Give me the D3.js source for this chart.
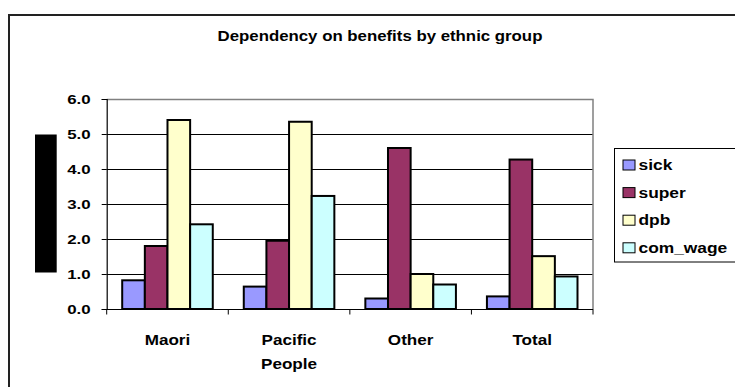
<!DOCTYPE html>
<html>
<head>
<meta charset="utf-8">
<script src="https://cdn.jsdelivr.net/npm/d3@7"></script>
<style>
  html, body { margin: 0; padding: 0; background: #fff; }
  svg { display: block; }
  text { font-family: Arial, "Liberation Sans", sans-serif; font-weight: bold; fill: #000; }
</style>
</head>
<body>
<svg id="chart" width="735" height="387"></svg>
<script>
// Ethnic groups along the x axis
const categories = ["Maori", "Pacific People", "Other", "Total"];
// Benefit types (series)
const seriesNames = ["sick", "super", "dpb", "com_wage"];
// Values per series, one entry per ethnic group
const sick     = [0.82, 0.64, 0.30, 0.36];
const superann = [1.80, 1.95, 4.60, 4.27];
const dpb      = [5.40, 5.35, 1.00, 1.51];
const comWage  = [2.42, 3.23, 0.70, 0.93];
const seriesValues = [sick, superann, dpb, comWage];
const seriesColors = ["#9999FF", "#993366", "#FFFFCC", "#CCFFFF"];
// Value axis ticks
const yTicks = [0, 1, 2, 3, 4, 5, 6];
const titleText = "Dependency on benefits by ethnic group";

const svg = d3.select("#chart");
const plot = { left: 106.7, right: 593, top: 99, bottom: 309 };

// Widen glyphs horizontally to the chart's wide lettering
function stretch(sel, factor) {
  sel.each(function () {
    const w = this.getComputedTextLength();
    d3.select(this).attr("textLength", w * factor).attr("lengthAdjust", "spacingAndGlyphs");
  });
}

// Outer chart frame (left and top edges)
svg.append("path")
  .attr("d", "M9,400 L9,15 L740,15")
  .attr("fill", "none").attr("stroke", "#222").attr("stroke-width", 2);

// Title
svg.append("text")
  .attr("x", 380).attr("y", 41)
  .attr("text-anchor", "middle")
  .style("font-size", "15px")
  .text(titleText)
  .call(stretch, 1.12);

const y = d3.scaleLinear().domain([0, 6]).range([plot.bottom, plot.top]);
const x0 = d3.scaleBand().domain(categories)
  .range([plot.left, plot.right])
  .paddingInner(0.255).paddingOuter(0.1275);
const x1 = d3.scaleBand().domain(seriesNames).range([0, x0.bandwidth()]).padding(0);

// Gridlines
svg.append("g").selectAll("line")
  .data(yTicks.filter(t => t > 0 && t < 6))
  .join("line")
  .attr("x1", plot.left).attr("x2", plot.right)
  .attr("y1", d => Math.round(y(d)) + 0.5).attr("y2", d => Math.round(y(d)) + 0.5)
  .attr("stroke", "#000").attr("stroke-width", 1);

// Plot area border (top and right)
svg.append("path")
  .attr("d", `M${plot.left},${Math.round(y(6)) + 0.5} L${plot.right},${Math.round(y(6)) + 0.5} L${plot.right},${plot.bottom}`)
  .attr("fill", "none").attr("stroke", "#808080").attr("stroke-width", 1.5);

// Bars
const groups = svg.append("g").selectAll("g")
  .data(categories)
  .join("g")
  .attr("transform", d => `translate(${x0(d)},0)`);

groups.selectAll("rect")
  .data((c, ci) => seriesNames.map((s, si) => ({ s, v: seriesValues[si][ci], color: seriesColors[si] })))
  .join("rect")
  .attr("x", d => x1(d.s))
  .attr("width", x1.bandwidth())
  .attr("y", d => y(d.v))
  .attr("height", d => y(0) - y(d.v))
  .attr("fill", d => d.color)
  .attr("stroke", "#000").attr("stroke-width", 2);

// Y axis
const yAxis = svg.append("g")
  .attr("transform", `translate(${plot.left},0)`)
  .call(d3.axisLeft(y).tickValues(yTicks).tickFormat(d3.format(".1f")).tickSize(5).tickPadding(11));
yAxis.select(".domain").attr("stroke", "#000").attr("stroke-width", 1.2);
yAxis.selectAll(".tick line").attr("stroke", "#000");
yAxis.selectAll("text")
  .attr("font-family", null).attr("font-size", null)
  .style("font-size", "13.5px").attr("dy", "0.36em")
  .call(stretch, 1.25);

// X axis with boundary ticks
const xAxisG = svg.append("g");
xAxisG.append("line")
  .attr("x1", plot.left).attr("x2", plot.right)
  .attr("y1", plot.bottom + 0.5).attr("y2", plot.bottom + 0.5)
  .attr("stroke", "#000").attr("stroke-width", 1.2);
const bounds = categories.map(c => x0(c) - x0.step() * x0.paddingInner() / 2).concat([plot.right]);
xAxisG.selectAll("line.tick")
  .data(bounds)
  .join("line").attr("class", "tick")
  .attr("x1", d => d).attr("x2", d => d)
  .attr("y1", plot.bottom).attr("y2", plot.bottom + 5.5)
  .attr("stroke", "#000").attr("stroke-width", 1);

// Category labels, wrapped onto lines at spaces
const labels = xAxisG.selectAll("text.cat")
  .data(categories)
  .join("text").attr("class", "cat")
  .attr("text-anchor", "middle")
  .style("font-size", "14px");
labels.each(function (c) {
  const cx = x0(c) + x0.bandwidth() / 2;
  const t = d3.select(this);
  c.split(" ").forEach((word, i) => {
    t.append("tspan").attr("x", cx).attr("y", 344.5 + i * 24.5).text(word);
  });
});
labels.selectAll("tspan").call(stretch, 1.22);

// Axis title block
svg.append("rect").attr("x", 35).attr("y", 134.5).attr("width", 21.7).attr("height", 138).attr("fill", "#000");

// Legend
const legend = svg.append("g");
legend.append("rect")
  .attr("x", 614.5).attr("y", 148.5).attr("width", 130).attr("height", 113.5)
  .attr("fill", "#fff").attr("stroke", "#000").attr("stroke-width", 1);
const items = legend.selectAll("g.item")
  .data(seriesNames)
  .join("g").attr("class", "item")
  .attr("transform", (d, i) => `translate(0,${165 + i * 27.6})`);
items.append("rect")
  .attr("x", 623).attr("y", -5).attr("width", 12).attr("height", 10)
  .attr("fill", (d, i) => seriesColors[i])
  .attr("stroke", "#000").attr("stroke-width", 1);
items.append("text")
  .attr("x", 638.5).attr("y", 0).attr("dy", "0.36em")
  .style("font-size", "14px")
  .text(d => d)
  .call(stretch, 1.24);
</script>
</body>
</html>
